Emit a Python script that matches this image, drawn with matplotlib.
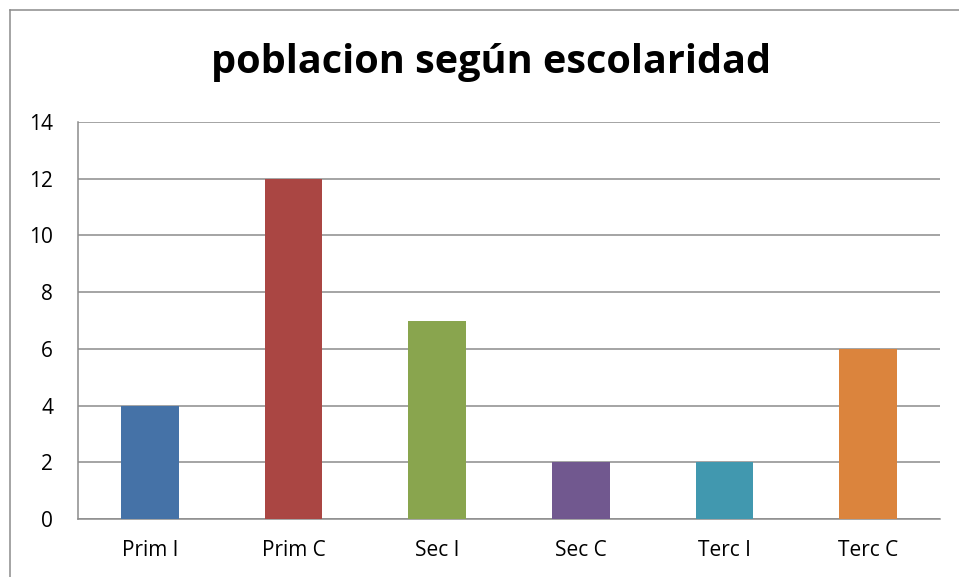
import matplotlib
matplotlib.use("Agg")
import matplotlib.pyplot as plt
from matplotlib.lines import Line2D

categories = ["Prim I", "Prim C", "Sec I", "Sec C", "Terc I", "Terc C"]
values = [4, 12, 7, 2, 2, 6]
colors = ["#4572A7", "#AA4643", "#89A54E", "#71588F", "#4198AF", "#DB843D"]
yticks = [0, 2, 4, 6, 8, 10, 12, 14]
title = "poblacion según escolaridad"

plt.rcParams['font.family'] = ['Open Sans', 'DejaVu Sans']

W, H = 959, 577
fig = plt.figure(figsize=(W/100, H/100), dpi=100)
ax = fig.add_axes([78/W, 1 - 519/H, (940-78)/W, (519-122)/H])

x = range(len(categories))
ax.bar(x, values, width=0.40, color=colors, zorder=3)
ax.set_xlim(-0.5, len(categories) - 0.5)
ax.set_ylim(0, 14)
ax.set_yticks(yticks)
ax.set_xticks(list(x))
ax.set_xticklabels(categories)
ax.tick_params(axis='both', length=0, labelsize=15, colors='black')
ax.tick_params(axis='y', pad=18)
ax.tick_params(axis='x', pad=15)
ax.grid(axis='y', color='#8c8c8c', linewidth=1.1, zorder=0)
for s in ['top', 'right']:
    ax.spines[s].set_visible(False)
for s in ['left', 'bottom']:
    ax.spines[s].set_color('#8c8c8c')
    ax.spines[s].set_linewidth(1.1)

fig.text(491/W, 1 - 62/H, title, ha='center', va='center', fontsize=28.5, fontweight='bold')

# outer chart border
fig.add_artist(Line2D([10/W, 10/W], [1 - 10/H, -0.05], color='#8c8c8c', lw=1.1, transform=fig.transFigure))
fig.add_artist(Line2D([10/W, 1.05], [1 - 10/H, 1 - 10/H], color='#8c8c8c', lw=1.1, transform=fig.transFigure))

fig.savefig("out.png", dpi=100)
